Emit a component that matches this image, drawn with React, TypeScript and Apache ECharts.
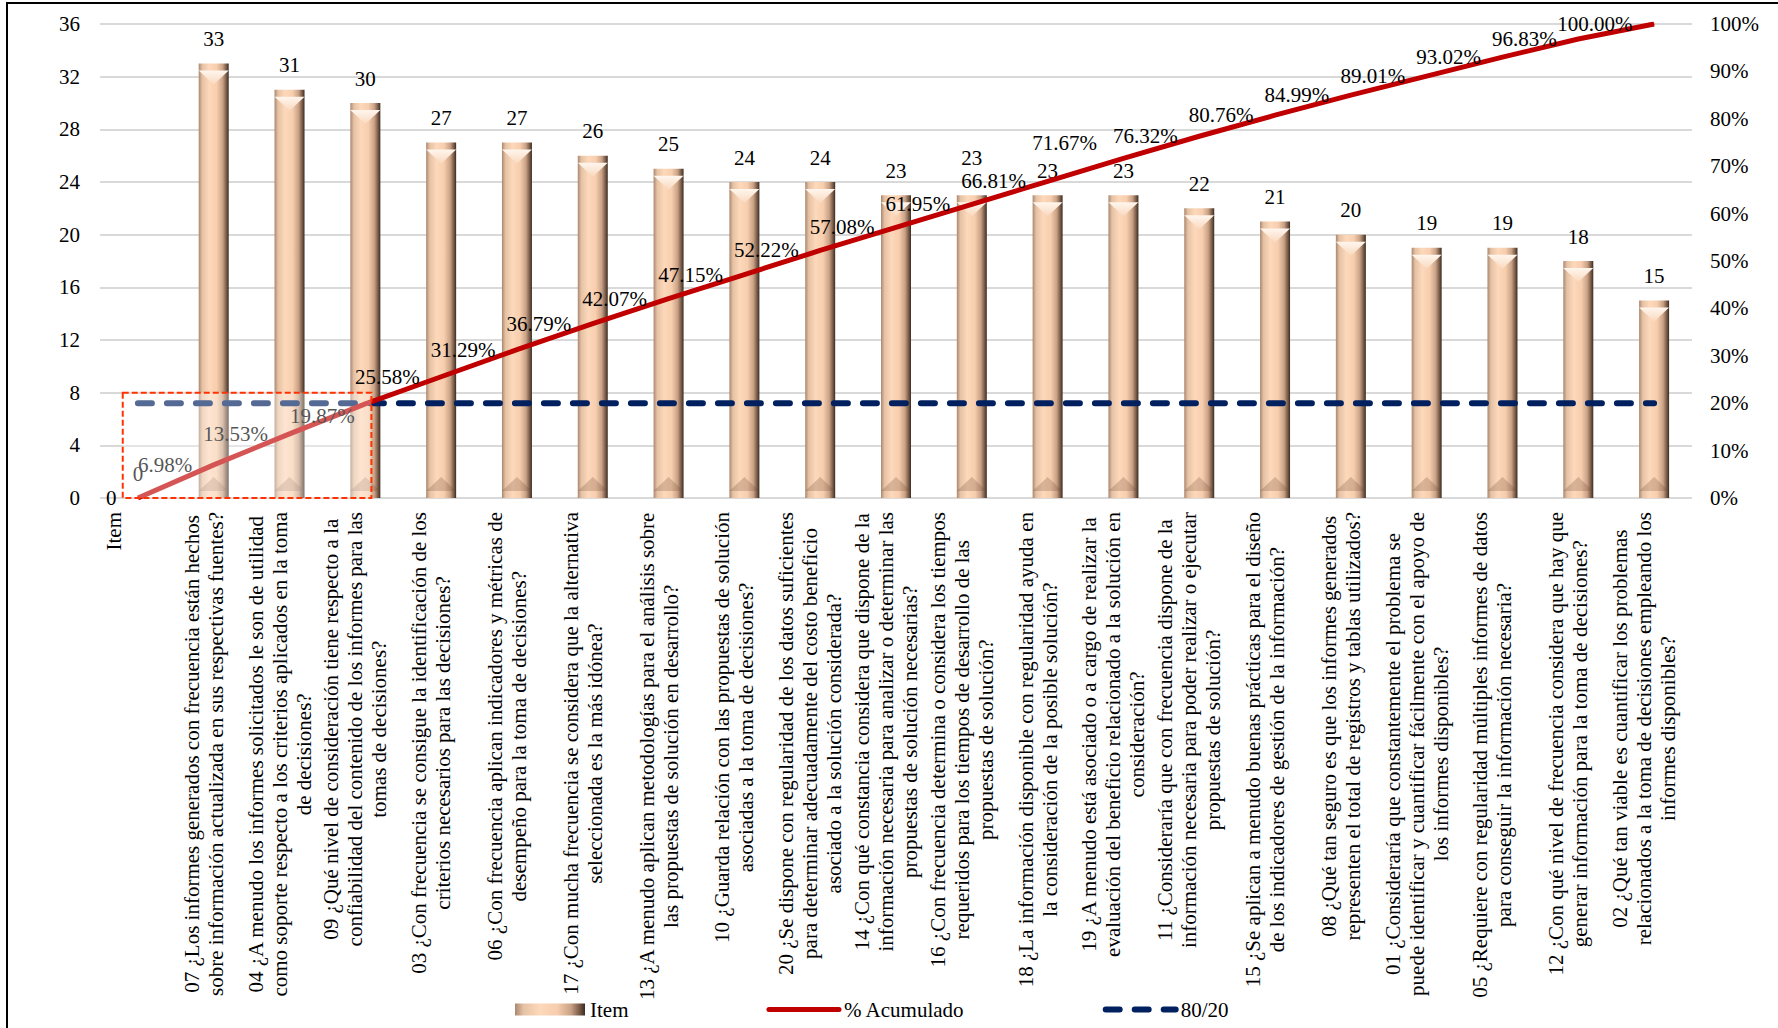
import React, { useEffect, useRef } from 'react';
import * as echarts from 'echarts';

// Categories on the x axis (line breaks are the wrapped lines of each question)
const categories: string[] = [
  'Item',
  '07 ¿Los informes generados con frecuencia están hechos\nsobre información actualizada en sus respectivas fuentes?',
  '04 ¿A menudo los informes solicitados le son de utilidad\ncomo soporte respecto a los criterios aplicados en la toma\nde decisiones?',
  '09 ¿Qué nivel de consideración tiene respecto a la\nconfiabilidad del contenido de los informes para las\ntomas de decisiones?',
  '03 ¿Con frecuencia se consigue la identificación de los\ncriterios necesarios para las decisiones?',
  '06 ¿Con frecuencia aplican indicadores y métricas de\ndesempeño para la toma de decisiones?',
  '17 ¿Con mucha frecuencia se considera que la alternativa\nseleccionada es la más idónea?',
  '13 ¿A menudo aplican metodologías para el análisis sobre\nlas propuestas de solución en desarrollo?',
  '10 ¿Guarda relación con las propuestas de solución\nasociadas a la toma de decisiones?',
  '20 ¿Se dispone con regularidad de los datos suficientes\npara determinar adecuadamente del costo beneficio\nasociado a la solución considerada?',
  '14 ¿Con qué constancia considera que dispone de la\ninformación necesaria para analizar o determinar las\npropuestas de solución necesarias?',
  '16 ¿Con frecuencia determina o considera los tiempos\nrequeridos para los tiempos de desarrollo de las\npropuestas de solución?',
  '18 ¿La información disponible con regularidad ayuda en\nla consideración de la posible solución?',
  '19 ¿A menudo está asociado o a cargo de realizar la\nevaluación del beneficio relacionado a la solución en\nconsideración?',
  '11 ¿Consideraría que con frecuencia dispone de la\ninformación necesaria para poder realizar o ejecutar\npropuestas de solución?',
  '15 ¿Se aplican a menudo buenas prácticas para el diseño\nde los indicadores de gestión de la información?',
  '08 ¿Qué tan seguro es que los informes generados\nrepresenten el total de registros y tablas utilizados?',
  '01 ¿Consideraría que constantemente el problema se\npuede identificar y cuantificar fácilmente con el apoyo de\nlos informes disponibles?',
  '05 ¿Requiere con regularidad múltiples informes de datos\npara conseguir la información necesaria?',
  '12 ¿Con qué nivel de frecuencia considera que hay que\ngenerar información para la toma de decisiones?',
  '02 ¿Qué tan viable es cuantificar los problemas\nrelacionados a la toma de decisiones empleando los\ninformes disponibles?',
];

// Frequency per item
const itemCounts: number[] = [0, 33, 31, 30, 27, 27, 26, 25, 24, 24, 23, 23, 23, 23, 22, 21, 20, 19, 19, 18, 15];

// Cumulative percentage per item
const cumulativePct: number[] = [
  0, 6.98, 13.53, 19.87, 25.58, 31.29, 36.79, 42.07, 47.15, 52.22, 57.08,
  61.95, 66.81, 71.67, 76.32, 80.76, 84.99, 89.01, 93.02, 96.83, 100.0,
];

// 80/20 reference level (percent)
const paretoLine: number[] = [20, 20, 20, 20, 20, 20, 20, 20, 20, 20, 20, 20, 20, 20, 20, 20, 20, 20, 20, 20, 20];

// Axis ranges
const countAxis = { min: 0, max: 36, interval: 4 };
const pctAxis = { min: 0, max: 100, interval: 10 };

// Highlighted block: categories 0..3 up to count 8
const highlight = { fromIndex: 0, toIndex: 3, topValue: 8 };

const FONT = "'Liberation Serif', 'Times New Roman', serif";
const FS = 21;

export default function App() {
  const ref = useRef<HTMLDivElement>(null);

  useEffect(() => {
    if (!ref.current) return;
    const chart = echarts.init(ref.current, undefined, { renderer: 'svg' });

    const barFill = new echarts.graphic.LinearGradient(0, 0, 1, 0, [
      { offset: 0, color: '#a9876f' },
      { offset: 0.12, color: '#e6c2a5' },
      { offset: 0.35, color: '#fdd8ba' },
      { offset: 0.6, color: '#f7ceae' },
      { offset: 0.8, color: '#c9a185' },
      { offset: 0.92, color: '#7a5c49' },
      { offset: 1, color: '#3b2b20' },
    ]);

    const barData = itemCounts.map((v, i) =>
      i === 11 ? { value: v, label: { offset: [0, -13] } } : v
    );
    const bevelData = itemCounts.map((v) => (v > 0 ? v : { value: v, symbol: 'none' }));

    const lineData = cumulativePct.map((v, i) => {
      if (i === 3) return { value: v, label: { distance: 10, offset: [0, 12] } };
      if (i === 13) return { value: v, label: { offset: [-5, -15] } };
      return v;
    });

    // the first (header) category sits a little further left than the questions
    const axisData = categories.map((c, i) =>
      i === 0 ? { value: c, textStyle: { padding: [0, 0, 48, 0] } } : c
    );

    const option: any = {
      animation: false,
      backgroundColor: 'transparent',
      textStyle: { fontFamily: FONT },
      grid: { left: 100, right: 86, top: 24, bottom: 530, containLabel: false },
      legend: {
        left: 510,
        top: 994,
        itemWidth: 70,
        itemHeight: 12,
        itemGap: 138,
        textStyle: { fontFamily: FONT, fontSize: FS, color: '#000' },
        data: [
          { name: 'Item', icon: 'rect' },
          {
            name: '% Acumulado',
            itemStyle: { opacity: 0 },
            lineStyle: { width: 5, color: '#c00000', cap: 'round' },
          },
          {
            name: '80/20',
            itemStyle: { opacity: 0 },
            lineStyle: { width: 6, color: '#002060', type: [14, 15], cap: 'round' },
          },
        ],
      },
      xAxis: {
        type: 'category',
        data: axisData,
        boundaryGap: true,
        axisLine: { show: false },
        axisTick: { show: false },
        axisLabel: {
          interval: 0,
          rotate: 90,
          margin: 14,
          padding: [0, 0, 20, 0],
          color: '#000',
          fontFamily: FONT,
          fontSize: FS,
          lineHeight: 24,
          formatter: (v: string) =>
            v.split('\n').map((l) => `{c|${l}}`).join('\n'),
          rich: {
            c: { align: 'center', fontFamily: FONT, fontSize: FS, lineHeight: 24, color: '#000' },
          },
        },
      },
      yAxis: [
        {
          type: 'value',
          ...countAxis,
          axisLine: { show: false },
          axisTick: { show: false },
          axisLabel: { margin: 20, color: '#000', fontFamily: FONT, fontSize: FS },
          splitLine: { lineStyle: { color: '#d9d9d9', width: 2 } },
        },
        {
          type: 'value',
          position: 'right',
          ...pctAxis,
          axisLine: { show: false },
          axisTick: { show: false },
          axisLabel: { margin: 18, color: '#000', fontFamily: FONT, fontSize: FS, formatter: '{value}%' },
          splitLine: { show: false },
        },
      ],
      series: [
        {
          name: 'Item',
          type: 'bar',
          data: barData,
          barWidth: 30,
          z: 2,
          itemStyle: { color: barFill },
          label: {
            show: true,
            position: 'top',
            distance: 14,
            color: '#000',
            fontFamily: FONT,
            fontSize: FS,
          },
        },
        {
          name: 'bevelTop',
          type: 'pictorialBar',
          data: bevelData,
          symbol: 'path://M0,0 L2,0 L1,1 Z',
          symbolSize: [30, 14],
          symbolPosition: 'end',
          symbolOffset: [0, '50%'],
          z: 3,
          silent: true,
          itemStyle: {
            color: new echarts.graphic.LinearGradient(0, 0, 0, 1, [
              { offset: 0, color: '#fff6ee' },
              { offset: 1, color: '#f9d9bf' },
            ]),
          },
        },
        {
          name: 'bevelBottom',
          type: 'pictorialBar',
          data: bevelData,
          symbol: 'path://M1,0 L2,1 L0,1 Z',
          symbolSize: [30, 14],
          symbolPosition: 'start',
          symbolOffset: [0, '-50%'],
          z: 3,
          silent: true,
          itemStyle: { color: 'rgba(110,72,50,0.25)' },
        },
        {
          name: '80/20',
          type: 'line',
          yAxisIndex: 1,
          data: paretoLine,
          symbol: 'none',
          z: 4,
          lineStyle: { color: '#002060', width: 6, type: [14, 15], cap: 'round' },
          itemStyle: { color: '#002060' },
        },
        {
          name: '% Acumulado',
          type: 'line',
          yAxisIndex: 1,
          data: lineData,
          symbol: 'circle',
          symbolSize: 1,
          showSymbol: true,
          z: 5,
          lineStyle: { color: '#c00000', width: 5 },
          itemStyle: { color: '#c00000' },
          label: {
            show: true,
            position: 'left',
            distance: 21,
            color: '#000',
            fontFamily: FONT,
            fontSize: FS,
            formatter: (p: any) => (p.dataIndex === 0 ? '0' : `${Number(p.value).toFixed(2)}%`),
          },
        },
      ],
    };

    chart.setOption(option);

    // Faded, dashed-outlined block over the first categories
    const finder = { xAxisIndex: 0, yAxisIndex: 0 };
    const pA = chart.convertToPixel(finder, [highlight.fromIndex, highlight.topValue]) as number[];
    const pB = chart.convertToPixel(finder, [highlight.toIndex, 0]) as number[];
    const band = (pB[0] - pA[0]) / (highlight.toIndex - highlight.fromIndex);
    const x0 = pA[0] - band * 0.2;
    const x1 = pB[0] + band * 0.08;
    chart.setOption({
      graphic: [
        {
          type: 'rect',
          z: 100,
          silent: true,
          shape: { x: x0, y: pA[1], width: x1 - x0, height: pB[1] - pA[1] },
          style: {
            fill: 'rgba(255,255,255,0.33)',
            stroke: '#ff3300',
            lineWidth: 2,
            lineDash: [6, 3],
          },
        },
      ],
    });

    return () => chart.dispose();
  }, []);

  return (
    <div style={{ position: 'fixed', left: 0, top: 0, width: 1778, height: 1028, background: '#fff' }}>
      <div
        style={{
          position: 'absolute',
          left: 6,
          top: 2,
          width: 1800,
          height: 1100,
          borderLeft: '2px solid #000',
          borderTop: '2px solid #000',
          pointerEvents: 'none',
        }}
      />
      <div ref={ref} style={{ position: 'absolute', left: 0, top: 0, width: 1778, height: 1028 }} />
    </div>
  );
}
